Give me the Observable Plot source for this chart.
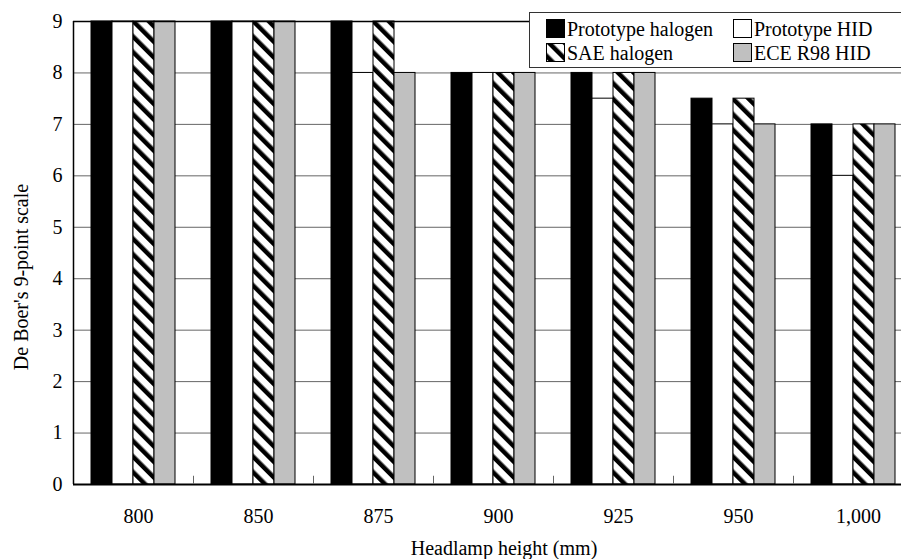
<!DOCTYPE html>
<html>
<head>
<meta charset="utf-8">
<script src="https://cdn.jsdelivr.net/npm/d3@7"></script>
<script src="https://cdn.jsdelivr.net/npm/@observablehq/plot@0.6"></script>
<style>
  html, body { margin: 0; padding: 0; background: white; }
  #wrap { position: relative; width: 901px; height: 559px; overflow: hidden; font-family: "Liberation Serif", "Times New Roman", serif; color: black; }
  #chart { position: absolute; left: 0; top: 0; }
  .lbl { position: absolute; white-space: nowrap; font-family: "Liberation Serif", serif; font-size: 20px; line-height: 20px; }
  #legend { position: absolute; left: 529px; top: 12px; width: 375px; height: 54px; border: 1px solid #333; background: white; }
  .sw { position: absolute; }
</style>
</head>
<body>
<svg width="0" height="0" style="position:absolute">
  <defs>
    <pattern id="hatch" patternUnits="userSpaceOnUse" width="11" height="11" patternTransform="rotate(-45)">
      <rect width="11" height="11" fill="white"></rect>
      <rect width="4.5" height="11" fill="black"></rect>
    </pattern>
  </defs>
</svg>
<div id="wrap">
  <div id="chart"></div>
  <div id="legend"></div>
  <div class="lbl" id="ylabel"></div>
  <div class="lbl" id="xlabel"></div>
</div>
<script>
// ---- data ----
const categories = ["800", "850", "875", "900", "925", "950", "1,000"];
const series = ["Prototype halogen", "Prototype HID", "SAE halogen", "ECE R98 HID"];
const prototypeHalogen = [9, 9, 9, 8, 8, 7.5, 7];
const prototypeHID     = [9, 9, 8, 8, 7.5, 7, 6];
const saeHalogen       = [9, 9, 9, 8, 8, 7.5, 7];
const eceR98HID        = [9, 9, 8, 8, 8, 7, 7];
const yTicks = [0, 1, 2, 3, 4, 5, 6, 7, 8, 9];
const yTitle = "De Boer's 9-point scale";
const xTitle = "Headlamp height (mm)";

// ---- styles ----
const fills = ["black", "white", "url(#hatch)", "#c0c0c0"];
const serif = "'Liberation Serif', 'Times New Roman', serif";
const valuesBySeries = [prototypeHalogen, prototypeHID, saeHalogen, eceR98HID];
const data = categories.flatMap((c, i) =>
  series.map((s, j) => ({category: c, series: s, value: valuesBySeries[j][i]}))
);

const fxRange = [73, 913];
const halfBand = (fxRange[1] - fxRange[0]) / categories.length / 2;

const chart = Plot.plot({
  width: 901,
  height: 559,
  marginLeft: 73,
  marginRight: 0,
  marginTop: 21,
  marginBottom: 75,
  facet: {marginTop: 0, marginBottom: 0, marginLeft: 0, marginRight: 0},
  style: {fontFamily: serif, fontSize: "20px", color: "black", background: "white"},
  fx: {domain: categories, range: fxRange, padding: 0, label: null},
  x: {domain: series, paddingInner: 0, paddingOuter: 0.75, axis: null},
  y: {domain: [0, 9], range: [484, 21], label: null},
  color: {domain: series, range: fills},
  marks: [
    Plot.gridY(yTicks, {stroke: "#666", strokeOpacity: 1, strokeWidth: 1}),
    Plot.barY(data, {fx: "category", x: "series", y: "value", fill: "series", stroke: "black", strokeWidth: 1}),
    Plot.ruleY([9], {stroke: "black", strokeWidth: 1.3}),
    Plot.ruleY([0], {stroke: "black", strokeWidth: 2}),
    Plot.ruleX([0], {x: null, y1: 0, y2: 0.16, dx: -halfBand, stroke: "#666"}),
    Plot.ruleX(categories.slice(0, 1), {fx: (d) => d, x: null, y1: 0, y2: 9, dx: -halfBand, stroke: "black", strokeWidth: 1.5}),
    Plot.axisY(yTicks, {tickSize: 0, tickPadding: 11, label: null, tickFormat: (d) => String(d), fontFamily: serif, fontSize: 20}),
    Plot.axisFx({anchor: "bottom", tickSize: 0, tickPadding: 24, label: null, dx: 5, fontFamily: serif, fontSize: 20})
  ]
});
document.getElementById("chart").appendChild(chart);

// ---- legend ----
const legend = document.getElementById("legend");
const colLeft = [16, 203];
const rowTop = [6, 30];
series.forEach((s, j) => {
  const col = j % 2, row = Math.floor(j / 2);
  const ns = "http://www.w3.org/2000/svg";
  const sw = document.createElementNS(ns, "svg");
  sw.setAttribute("width", 19);
  sw.setAttribute("height", 19);
  sw.setAttribute("class", "sw");
  sw.style.left = colLeft[col] + "px";
  sw.style.top = rowTop[row] + "px";
  const r = document.createElementNS(ns, "rect");
  r.setAttribute("x", 0.5); r.setAttribute("y", 0.5);
  r.setAttribute("width", 18); r.setAttribute("height", 18);
  r.setAttribute("fill", fills[j]);
  r.setAttribute("stroke", "black");
  sw.appendChild(r);
  legend.appendChild(sw);
  const t = document.createElement("div");
  t.className = "lbl";
  t.textContent = s;
  t.style.left = (colLeft[col] + 21) + "px";
  t.style.top = rowTop[row] + "px";
  legend.appendChild(t);
});

// ---- axis titles ----
const yl = document.getElementById("ylabel");
yl.textContent = yTitle;
yl.style.left = "21px";
yl.style.top = "277px";
yl.style.transform = "translate(-50%, -50%) rotate(-90deg)";
const xl = document.getElementById("xlabel");
xl.textContent = xTitle;
xl.style.left = "504px";
xl.style.top = "538px";
xl.style.transform = "translateX(-50%)";
</script>
</body>
</html>
